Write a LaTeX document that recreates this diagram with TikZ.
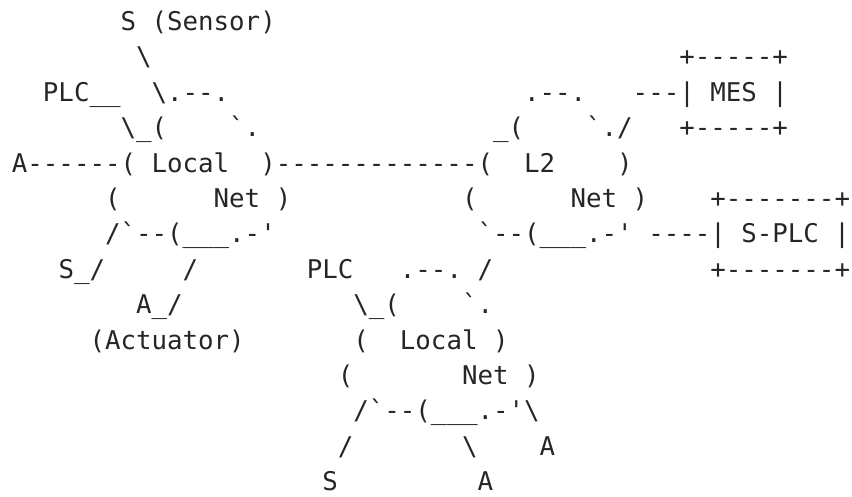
\documentclass[tikz,border=0pt]{standalone}
\usepackage{fontspec}
\setmonofont{DejaVu Sans Mono}
\usepackage{tikz}

\newcommand{\bsl}{\textbackslash}

\begin{document}
\begin{tikzpicture}[
    x=15.52pt, y=-35.4pt,
    ascii/.style={anchor=base west, inner sep=0pt, text=black!85,
        font=\ttfamily\fontsize{25.78pt}{35.4pt}\selectfont}
]
    \fill[white] (-11.74pt,-4.9pt) rectangle (840.26pt,-500.9pt);
    \useasboundingbox (-11.74pt,-4.9pt) rectangle (840.26pt,-500.9pt);

    % upper left: local net with sensor, plc, actuators
    \node[ascii] (sensor) at (7,1) {S~(Sensor)};
    \node[ascii] (sensorlink) at (8,2) {\bsl};
    \node[ascii] (plc) at (2,3) {PLC\_\_};
    \node[ascii] (localtop) at (9,3) {\bsl.--.};
    \node[ascii] (plclink) at (7,4) {\bsl\_(};
    \node[ascii] (localne) at (14,4) {`.};
    \node[ascii] (backbone) at (0,5) {A------(~Local~~)-------------(~~L2~~~~)};
    \node[ascii] (localnet) at (6,6) {(~~~~~~Net~)};
    \node[ascii] (localbot) at (6,7) {/`--(\_\_\_.-'};
    \node[ascii] (sensorb) at (3,8) {S\_/};
    \node[ascii] (actlink) at (11,8) {/};
    \node[ascii] (actuator) at (8,9) {A\_/};
    \node[ascii] (actlabel) at (5,10) {(Actuator)};

    % L2 net with MES and S-PLC
    \node[ascii] (mestop) at (43,2) {+-----+};
    \node[ascii] (l2top) at (33,3) {.--.};
    \node[ascii] (mes) at (40,3) {---|~MES~|};
    \node[ascii] (l2nw) at (31,4) {\_(};
    \node[ascii] (l2ne) at (37,4) {`./};
    \node[ascii] (mesbot) at (43,4) {+-----+};
    \node[ascii] (l2net) at (29,6) {(~~~~~~Net~)};
    \node[ascii] (splctop) at (45,6) {+-------+};
    \node[ascii] (l2bot) at (30,7) {`--(\_\_\_.-'~----|~S-PLC~|};
    \node[ascii] (splcbot) at (45,8) {+-------+};

    % lower local net
    \node[ascii] (plcb) at (19,8) {PLC};
    \node[ascii] (celltop) at (25,8) {.--.};
    \node[ascii] (celllink) at (30,8) {/};
    \node[ascii] (cellnw) at (22,9) {\bsl\_(};
    \node[ascii] (cellne) at (29,9) {`.};
    \node[ascii] (celllocal) at (22,10) {(~~Local~)};
    \node[ascii] (cellnet) at (21,11) {(~~~~~~~Net~)};
    \node[ascii] (cellbot) at (22,12) {/`--(\_\_\_.-'\bsl};
    \node[ascii] (sensorlink2) at (21,13) {/};
    \node[ascii] (actlink2) at (29,13) {\bsl};
    \node[ascii] (actuator2) at (34,13) {A};
    \node[ascii] (sensor2) at (20,14) {S};
    \node[ascii] (actuator3) at (30,14) {A};
\end{tikzpicture}
\end{document}
